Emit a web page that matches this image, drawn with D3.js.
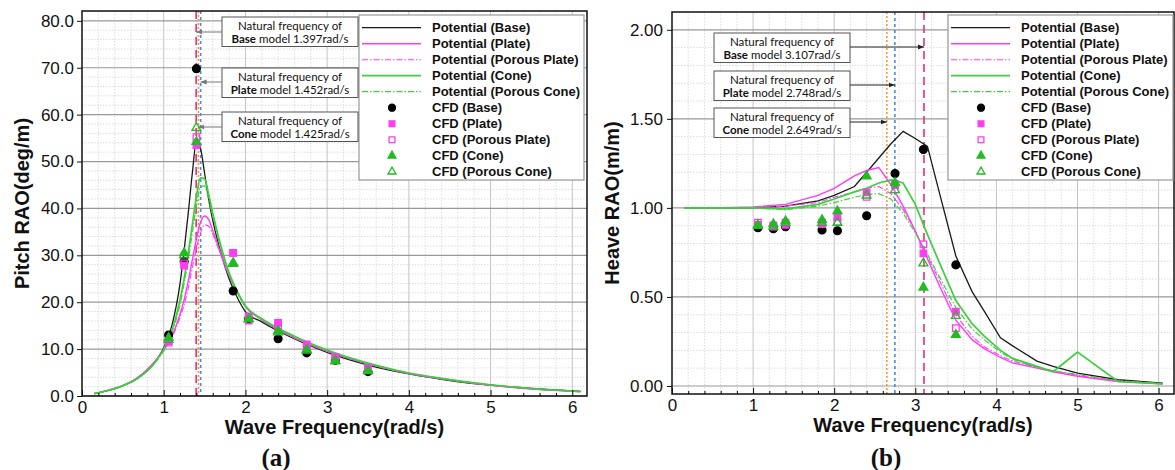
<!DOCTYPE html>
<html>
<head>
<meta charset="utf-8">
<script src="https://cdn.jsdelivr.net/npm/d3@7"></script>
<style>
  body { margin: 0; background: #fff; }
  svg text { font-family: "Liberation Sans", Arial, sans-serif; fill: #111; }
</style>
</head>
<body>
<svg id="chart" width="1175" height="470"></svg>
<script>
// ---- data ----
const models = ['Base', 'Plate', 'Porous Plate', 'Cone', 'Porous Cone'];
const legendLabels = [
  'Potential (Base)', 'Potential (Plate)', 'Potential (Porous Plate)', 'Potential (Cone)', 'Potential (Porous Cone)',
  'CFD (Base)', 'CFD (Plate)', 'CFD (Porous Plate)', 'CFD (Cone)', 'CFD (Porous Cone)'
];

// (a) pitch, potential theory
const pitchFreq = [0.15, 0.3, 0.5, 0.7, 0.9, 1.0, 1.1, 1.2, 1.25, 1.3, 1.35, 1.4, 1.45, 1.5, 1.55, 1.6, 1.7, 1.8, 1.9, 2.0, 2.2, 2.5, 3.0, 3.5, 4.0, 4.5, 5.0, 5.5, 6.0, 6.1];
const pitchBase = [0.5, 1.1, 2.2, 4.0, 7.4, 10.3, 15.0, 24.0, 31.0, 39.0, 47.5, 54.2, 52.8, 47.5, 42.0, 37.5, 30.5, 25.0, 21.0, 18.0, 15.8, 13.0, 9.3, 6.6, 4.7, 3.3, 2.3, 1.6, 1.1, 1.0];
const pitchPlate = [0.5, 1.1, 2.2, 4.2, 7.6, 9.8, 12.8, 17.5, 20.5, 24.5, 29.0, 33.5, 37.0, 38.4, 37.6, 35.3, 30.3, 25.8, 22.2, 19.2, 16.3, 13.3, 9.6, 6.9, 4.8, 3.4, 2.3, 1.5, 1.0, 0.9];
const pitchPorousPlate = [0.5, 1.1, 2.2, 4.2, 7.5, 9.6, 12.4, 16.8, 19.5, 23.0, 27.3, 31.5, 34.8, 36.5, 36.2, 34.5, 30.0, 25.6, 22.1, 19.1, 16.2, 13.2, 9.5, 6.8, 4.8, 3.4, 2.3, 1.5, 1.0, 0.9];
const pitchCone = [0.5, 1.1, 2.2, 4.0, 7.3, 10.0, 14.0, 20.5, 25.0, 30.5, 36.5, 42.5, 46.5, 46.3, 43.0, 39.0, 32.0, 26.3, 22.3, 19.2, 16.5, 13.6, 9.8, 7.0, 4.9, 3.5, 2.4, 1.6, 1.1, 1.0];
const pitchPorousCone = [0.5, 1.1, 2.2, 4.0, 7.2, 9.8, 13.6, 19.5, 24.0, 29.0, 34.8, 40.5, 44.5, 44.8, 42.0, 38.3, 31.5, 26.0, 22.0, 19.0, 16.3, 13.4, 9.7, 6.9, 4.9, 3.5, 2.4, 1.6, 1.1, 1.0];

// (b) heave, potential theory
const heaveFreq = [0.15, 0.5, 1.0, 1.4, 1.8, 2.0, 2.25, 2.4, 2.55, 2.7, 2.85, 3.0, 3.15, 3.3, 3.5, 3.7, 3.85, 4.05, 4.2, 4.5, 4.7, 5.0, 5.5, 6.05];
const heaveBase = [1.0, 1.0, 1.0, 1.01, 1.04, 1.07, 1.12, 1.2, 1.28, 1.36, 1.43, 1.39, 1.345, 1.08, 0.73, 0.53, 0.42, 0.27, 0.225, 0.14, 0.11, 0.072, 0.035, 0.016];
const heavePlate = [1.0, 1.0, 1.005, 1.02, 1.07, 1.11, 1.18, 1.21, 1.227, 1.13, 1.01, 0.87, 0.715, 0.56, 0.37, 0.26, 0.21, 0.16, 0.13, 0.1, 0.08, 0.055, 0.025, 0.012];
const heavePorousPlate = [1.0, 1.0, 1.0, 1.01, 1.03, 1.06, 1.09, 1.11, 1.12, 1.08, 0.99, 0.87, 0.73, 0.59, 0.40, 0.28, 0.22, 0.17, 0.14, 0.105, 0.085, 0.06, 0.028, 0.013];
const heaveCone = [1.0, 1.0, 1.0, 0.995, 1.02, 1.05, 1.09, 1.11, 1.14, 1.157, 1.14, 1.02, 0.85, 0.69, 0.48, 0.35, 0.28, 0.2, 0.155, 0.11, 0.08, 0.19, 0.025, 0.012];
const heavePorousCone = [1.0, 1.0, 1.0, 0.99, 1.01, 1.03, 1.06, 1.075, 1.08, 1.05, 0.97, 0.86, 0.74, 0.61, 0.44, 0.32, 0.26, 0.19, 0.15, 0.105, 0.085, 0.065, 0.03, 0.013];

// CFD results
const cfdFreq = [1.06, 1.25, 1.40, 1.85, 2.04, 2.40, 2.75, 3.10, 3.50];
const pitchCfdBase = [13.0, 28.7, 69.8, 22.4, 16.5, 12.2, 9.2, 7.6, 5.2];
const pitchCfdPlate = [11.7, 27.8, 53.5, 30.5, 17.0, 15.6, 11.0, 8.3, 6.0];
const pitchCfdPorousPlate = [11.4, 28.3, 55.2, 30.5, 16.1, 15.0, 10.4, 7.9, 5.8];
const pitchCfdCone = [12.4, 30.5, 54.2, 28.4, 16.4, 13.9, 9.9, 7.5, 5.4];
const pitchCfdPorousCone = [12.0, 30.0, 57.2, 28.2, 16.4, 13.6, 9.7, 7.4, 5.3];
const heaveCfdBase = [0.889, 0.883, 0.894, 0.876, 0.872, 0.956, 1.193, 1.328, 0.68];
const heaveCfdPlate = [0.905, 0.895, 0.905, 0.909, 0.95, 1.087, 1.133, 0.745, 0.418];
const heaveCfdPorousPlate = [0.917, 0.902, 0.917, 0.917, 0.922, 1.062, 1.128, 0.795, 0.325];
const heaveCfdCone = [0.904, 0.909, 0.926, 0.932, 0.982, 1.178, 1.141, 0.553, 0.288];
const heaveCfdPorousCone = [0.90, 0.895, 0.915, 0.915, 0.917, 1.07, 1.10, 0.689, 0.394];

// natural frequencies (Base, Plate, Cone)
const noteModels = ['Base', 'Plate', 'Cone'];
const pitchNatural = [1.397, 1.452, 1.425];
const heaveNatural = [3.107, 2.748, 2.649];

const xTicks = [0, 1, 2, 3, 4, 5, 6];
const pitchTicks = [0, 10, 20, 30, 40, 50, 60, 70, 80];
const heaveTicks = [0, 0.5, 1.0, 1.5, 2.0];

// ---- styles ----
const black = '#1a1a1a', pink = '#ff3cf2', green = '#3cd03c', greenMk = '#22bb22';
const lineStyles = [
  { color: black, width: 1.3, dash: null },
  { color: pink, width: 1.4, dash: null },
  { color: pink, width: 1.1, dash: '6,2,1.5,2' },
  { color: green, width: 1.7, dash: null },
  { color: green, width: 1.2, dash: '6,2,1.5,2' },
];
const markStyles = [
  { type: d3.symbolCircle, size: 48, fill: '#000', stroke: '#000' },
  { type: d3.symbolSquare, size: 42, fill: pink, stroke: pink },
  { type: d3.symbolSquare, size: 42, fill: 'none', stroke: pink },
  { type: d3.symbolTriangle, size: 34, fill: greenMk, stroke: greenMk },
  { type: d3.symbolTriangle, size: 34, fill: 'none', stroke: greenMk },
];
const noteColors = ['#ea2f76', '#3b8fe6', '#f39a45'];
const noteDash = ['8,5', '3,3', '2,2'];

const svg = d3.select('#chart');

const defs = svg.append('defs');
['#777', '#222'].forEach((c, i) => {
  defs.append('marker')
    .attr('id', 'arrow' + i)
    .attr('viewBox', '0 0 10 10')
    .attr('refX', 10).attr('refY', 5)
    .attr('markerWidth', 6).attr('markerHeight', 6)
    .attr('orient', 'auto')
    .append('path')
    .attr('d', 'M0,1 L10,5 L0,9 z')
    .attr('fill', c);
});

function drawPanel(p) {
  const x = d3.scaleLinear().domain(p.xDomain).range([p.left, p.right]);
  const y = d3.scaleLinear().domain(p.yDomain).range([p.bottom, p.top]);
  const g = svg.append('g');

  // minor grid
  const xMinor = d3.range(0.2, p.xDomain[1], 0.2).filter(v => Math.abs(v - Math.round(v)) > 0.01);
  const yMinor = d3.range(p.yMinorStep, p.yDomain[1], p.yMinorStep)
    .filter(v => Math.abs(v / p.yMajorStep - Math.round(v / p.yMajorStep)) > 0.01);
  g.selectAll('.xminor').data(xMinor).join('line')
    .attr('x1', d => x(d)).attr('x2', d => x(d))
    .attr('y1', p.top).attr('y2', p.bottom)
    .attr('stroke', '#d4d4d4').attr('stroke-dasharray', '1.5,1.5').attr('stroke-width', 0.8);
  g.selectAll('.yminor').data(yMinor).join('line')
    .attr('x1', p.left).attr('x2', p.right)
    .attr('y1', d => y(d)).attr('y2', d => y(d))
    .attr('stroke', '#d4d4d4').attr('stroke-dasharray', '1.5,1.5').attr('stroke-width', 0.8);

  // major grid
  g.selectAll('.xmajor').data(xTicks.slice(1)).join('line')
    .attr('x1', d => x(d)).attr('x2', d => x(d))
    .attr('y1', p.top).attr('y2', p.bottom)
    .attr('stroke', '#c4c4c4').attr('stroke-width', 1);
  g.selectAll('.ymajor').data(p.yTicks).join('line')
    .attr('x1', p.left).attr('x2', p.right)
    .attr('y1', d => y(d)).attr('y2', d => y(d))
    .attr('stroke', '#999').attr('stroke-width', 1.2);

  // natural frequency marker lines
  p.natural.forEach((f, i) => {
    g.append('line')
      .attr('x1', x(f)).attr('x2', x(f))
      .attr('y1', p.top).attr('y2', p.bottom)
      .attr('stroke', noteColors[i]).attr('stroke-width', 1.6)
      .attr('stroke-dasharray', noteDash[i]);
  });

  // potential curves
  const line = d3.line()
    .x((d, i) => x(p.freq[i]))
    .y(d => y(d))
    .curve(p.curve);
  p.potential.forEach((vals, i) => {
    const s = lineStyles[i];
    g.append('path')
      .attr('d', line(vals))
      .attr('fill', 'none')
      .attr('stroke', s.color)
      .attr('stroke-width', s.width)
      .attr('stroke-dasharray', s.dash);
  });

  // CFD points
  p.cfd.forEach((vals, i) => {
    const m = markStyles[i];
    g.selectAll(null).data(vals).join('path')
      .attr('d', d3.symbol().type(m.type).size(m.size))
      .attr('transform', (d, j) => `translate(${x(cfdFreq[j])},${y(d)})`)
      .attr('fill', m.fill)
      .attr('stroke', m.stroke)
      .attr('stroke-width', 1.3);
  });

  // frame
  g.append('rect')
    .attr('x', p.left).attr('y', p.top)
    .attr('width', p.right - p.left).attr('height', p.bottom - p.top)
    .attr('fill', 'none').attr('stroke', '#111').attr('stroke-width', 1.5);

  // axes
  const xAxis = g.append('g')
    .attr('transform', `translate(0,${p.bottom})`)
    .call(d3.axisBottom(x).tickValues(xTicks).tickFormat(d3.format('d')).tickSize(-6).tickPadding(5));
  g.append('g')
    .attr('transform', `translate(0,${p.bottom})`)
    .call(d3.axisBottom(x).tickValues(xMinor).tickFormat('').tickSize(-3))
    .call(a => a.select('.domain').remove());
  const yAxis = g.append('g')
    .attr('transform', `translate(${p.left},0)`)
    .call(d3.axisLeft(y).tickValues(p.yTicks).tickFormat(d3.format(p.yFormat)).tickSize(5).tickPadding(p.yPad));
  [xAxis, yAxis].forEach(a => {
    a.select('.domain').remove();
    a.selectAll('text').attr('font-size', 17).attr('fill', '#111');
    a.selectAll('.tick line').attr('stroke', '#111');
  });

  // axis titles
  g.append('text')
    .attr('x', (p.left + p.right) / 2).attr('y', p.bottom + 38)
    .attr('text-anchor', 'middle')
    .attr('font-size', 20).attr('font-weight', 'bold')
    .text('Wave Frequency(rad/s)');
  g.append('text')
    .attr('transform', `translate(${p.yTitleX},${(p.top + p.bottom) / 2}) rotate(-90)`)
    .attr('text-anchor', 'middle')
    .attr('font-size', 20).attr('font-weight', 'bold')
    .text(p.yTitle);
  g.append('text')
    .attr('x', p.panelX).attr('y', 466)
    .attr('text-anchor', 'middle')
    .attr('font-size', 25).attr('font-weight', 'bold')
    .style('font-family', '"Liberation Serif", "DejaVu Serif", serif')
    .text(p.panel);

  // legend
  const lg = g.append('g');
  lg.append('rect')
    .attr('x', p.legendX).attr('y', 15)
    .attr('width', 225).attr('height', 165)
    .attr('fill', '#fff').attr('stroke', '#999').attr('stroke-width', 1.2);
  legendLabels.forEach((label, i) => {
    const ry = 27.7 + i * 16;
    if (i < 5) {
      const s = lineStyles[i];
      lg.append('line')
        .attr('x1', p.legendX + 3).attr('x2', p.legendX + 62)
        .attr('y1', ry).attr('y2', ry)
        .attr('stroke', s.color).attr('stroke-width', s.width)
        .attr('stroke-dasharray', s.dash);
    } else {
      const m = markStyles[i - 5];
      lg.append('path')
        .attr('d', d3.symbol().type(m.type).size(m.size * 0.8))
        .attr('transform', `translate(${p.legendX + 33},${ry})`)
        .attr('fill', m.fill).attr('stroke', m.stroke).attr('stroke-width', 1.3);
    }
    lg.append('text')
      .attr('x', p.legendX + 73).attr('y', ry + 4.5)
      .attr('font-size', 13).attr('font-weight', 'bold')
      .text(label);
  });

  // natural frequency notes
  p.notes.forEach((n, i) => {
    const f = p.natural[i];
    const ng = g.append('g');
    ng.append('rect')
      .attr('x', p.noteX).attr('y', n.y)
      .attr('width', 136).attr('height', 29.5)
      .attr('fill', '#fff').attr('stroke', '#555').attr('stroke-width', 1);
    const t = ng.append('text')
      .attr('text-anchor', 'middle')
      .style('font-family', 'Lato, "Noto Sans", sans-serif')
      .attr('font-size', 11.5);
    t.append('tspan').attr('x', p.noteX + 68).attr('y', n.y + 12.5).text('Natural frequency of');
    const t2 = t.append('tspan').attr('x', p.noteX + 68).attr('y', n.y + 26);
    t2.append('tspan').attr('font-weight', 'bold').text(noteModels[i]);
    t2.append('tspan').text(` model ${d3.format('.3f')(f)}rad/s`);
    const fromX = p.arrowFromRight ? p.noteX + 136 : p.noteX;
    ng.append('line')
      .attr('x1', fromX).attr('x2', x(f))
      .attr('y1', n.arrowY).attr('y2', n.arrowY)
      .attr('stroke', p.arrowColor).attr('stroke-width', 1)
      .attr('marker-end', `url(#arrow${p.arrowColor === '#777' ? 0 : 1})`);
  });
}

drawPanel({
  left: 82, right: 587, top: 11, bottom: 396,
  xDomain: [0, 6.18], yDomain: [0, 82.1],
  yTicks: pitchTicks, yMajorStep: 10, yMinorStep: 2, yFormat: '.1f', yPad: 3,
  yTitle: 'Pitch RAO(deg/m)', yTitleX: 29, panel: '(a)', panelX: 276,
  freq: pitchFreq, curve: d3.curveMonotoneX,
  potential: [pitchBase, pitchPlate, pitchPorousPlate, pitchCone, pitchPorousCone],
  cfd: [pitchCfdBase, pitchCfdPlate, pitchCfdPorousPlate, pitchCfdCone, pitchCfdPorousCone],
  natural: pitchNatural,
  legendX: 359,
  noteX: 222, arrowFromRight: false, arrowColor: '#777',
  notes: [{ y: 17, arrowY: 32 }, { y: 68, arrowY: 82 }, { y: 112, arrowY: 127 }],
});

drawPanel({
  left: 672, right: 1174, top: 12, bottom: 394,
  xDomain: [0, 6.19], yDomain: [-0.045, 2.1],
  yTicks: heaveTicks, yMajorStep: 0.5, yMinorStep: 0.1, yFormat: '.2f', yPad: 4,
  yTitle: 'Heave RAO(m/m)', yTitleX: 619, panel: '(b)', panelX: 886,
  freq: heaveFreq, curve: d3.curveLinear,
  potential: [heaveBase, heavePlate, heavePorousPlate, heaveCone, heavePorousCone],
  cfd: [heaveCfdBase, heaveCfdPlate, heaveCfdPorousPlate, heaveCfdCone, heaveCfdPorousCone],
  natural: heaveNatural,
  legendX: 948,
  noteX: 714, arrowFromRight: true, arrowColor: '#222',
  notes: [{ y: 33, arrowY: 47 }, { y: 71, arrowY: 85 }, { y: 108, arrowY: 122 }],
});
</script>
</body>
</html>
